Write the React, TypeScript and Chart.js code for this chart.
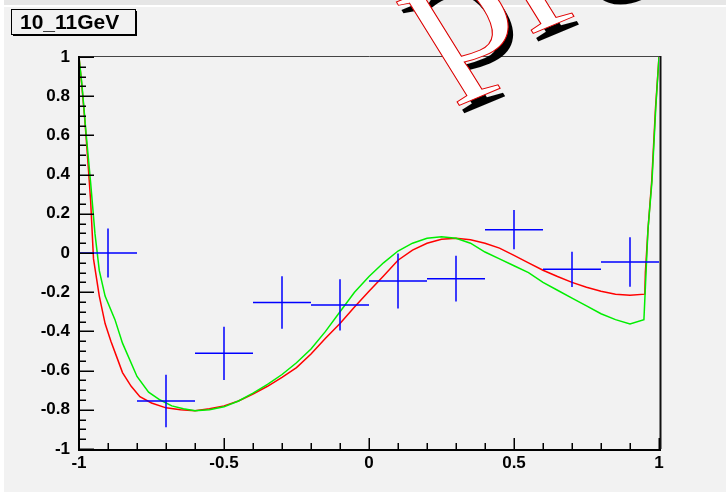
import React, { useEffect, useRef } from "react";
import { Chart, registerables } from "chart.js";

Chart.register(...registerables);

// ---- data ----
const titleText = "10_11GeV";
const watermarkText = "preliminary";

const binCenters = [-0.9, -0.7, -0.5, -0.3, -0.1, 0.1, 0.3, 0.5, 0.7, 0.9];
const binHalfWidths = [0.1, 0.1, 0.1, 0.1, 0.1, 0.1, 0.1, 0.1, 0.1, 0.1];
const measured = [0.0, -0.755, -0.512, -0.253, -0.265, -0.143, -0.131, 0.119, -0.083, -0.046];
const measuredErr = [0.125, 0.134, 0.136, 0.134, 0.131, 0.14, 0.117, 0.1, 0.09, 0.126];

const redX = [-1.0, -0.99, -0.98, -0.97, -0.96, -0.95, -0.93, -0.91, -0.89, -0.87, -0.85, -0.82, -0.79, -0.75, -0.7, -0.65, -0.6, -0.55, -0.5, -0.45, -0.4, -0.35, -0.3, -0.25, -0.2, -0.15, -0.1, -0.05, 0.0, 0.05, 0.1, 0.15, 0.2, 0.25, 0.3, 0.35, 0.4, 0.45, 0.5, 0.55, 0.6, 0.65, 0.7, 0.75, 0.8, 0.85, 0.9, 0.951, 0.953, 0.962, 0.975, 0.988, 1.0];
const redY = [1.0, 0.85, 0.68, 0.48, 0.27, -0.03, -0.22, -0.36, -0.45, -0.53, -0.61, -0.68, -0.733, -0.765, -0.79, -0.8, -0.805, -0.795, -0.78, -0.755, -0.72, -0.68, -0.635, -0.585, -0.515, -0.435, -0.36, -0.275, -0.195, -0.117, -0.037, 0.015, 0.05, 0.07, 0.075, 0.068, 0.05, 0.025, -0.012, -0.05, -0.088, -0.12, -0.15, -0.175, -0.195, -0.21, -0.215, -0.21, -0.1, 0.12, 0.37, 0.74, 1.0];

const greenX = [-1.0, -0.99, -0.975, -0.96, -0.945, -0.93, -0.91, -0.876, -0.85, -0.8, -0.76, -0.72, -0.68, -0.64, -0.6, -0.55, -0.5, -0.45, -0.4, -0.35, -0.3, -0.25, -0.2, -0.15, -0.1, -0.05, 0.0, 0.05, 0.1, 0.15, 0.2, 0.25, 0.3, 0.35, 0.4, 0.45, 0.5, 0.55, 0.6, 0.65, 0.7, 0.75, 0.8, 0.85, 0.9, 0.948, 0.962, 0.976, 0.989, 1.0];
const greenY = [1.0, 0.86, 0.6, 0.36, 0.1, -0.09, -0.22, -0.34, -0.46, -0.63, -0.71, -0.75, -0.78, -0.795, -0.805, -0.8, -0.785, -0.755, -0.715, -0.67, -0.62, -0.56, -0.49, -0.4, -0.3, -0.2, -0.12, -0.05, 0.01, 0.05, 0.075, 0.083, 0.075, 0.05, 0.005, -0.03, -0.065, -0.1, -0.15, -0.19, -0.23, -0.27, -0.31, -0.34, -0.362, -0.34, 0.12, 0.37, 0.745, 1.0];

const xMajorStep = 0.5;
const xMinorStep = 0.1;
const yMajorStep = 0.2;
const yMinorStep = 0.05;

const BG = "#f2f2f2";
const LABEL_FONT = { family: "'Liberation Sans', Arial, sans-serif", size: 17, weight: "bold" as const };

const fmt = (v: number) => String(Math.round(v * 100) / 100);

export default function App() {
  const ref = useRef<HTMLCanvasElement>(null);

  useEffect(() => {
    const canvas = ref.current!;
    const pts = (xs: number[], ys: number[]) => xs.map((x, i) => ({ x, y: ys[i] }));

    const bgPlugin = {
      id: "bg",
      beforeDraw(chart: any) {
        const c = chart.ctx;
        c.save();
        c.fillStyle = BG;
        c.fillRect(0, 0, chart.width, chart.height);
        c.fillStyle = "#e6e6e6";
        c.fillRect(0, 0, chart.width, 5);
        c.fillStyle = "#ffffff";
        c.fillRect(0, 5, chart.width, 2);
        c.fillRect(0, 0, 4, chart.height);
        c.restore();
      },
    };

    const framePlugin = {
      id: "frame",
      afterDatasetsDraw(chart: any) {
        const c = chart.ctx;
        const xs = chart.scales.x;
        const ys = chart.scales.y;
        const a = chart.chartArea;
        c.save();
        // error crosses
        c.strokeStyle = "rgb(0,0,255)";
        c.lineWidth = 1.5;
        binCenters.forEach((bx, i) => {
          const px = xs.getPixelForValue(bx);
          const py = ys.getPixelForValue(measured[i]);
          const x0 = xs.getPixelForValue(bx - binHalfWidths[i]);
          const x1 = xs.getPixelForValue(bx + binHalfWidths[i]);
          const y0 = ys.getPixelForValue(measured[i] - measuredErr[i]);
          const y1 = ys.getPixelForValue(measured[i] + measuredErr[i]);
          c.beginPath();
          c.moveTo(x0, py);
          c.lineTo(x1, py);
          c.moveTo(px, y0);
          c.lineTo(px, y1);
          c.stroke();
        });
        // frame
        c.strokeStyle = "#444";
        c.lineWidth = 1;
        c.beginPath();
        c.moveTo(a.left, a.top - 0.5);
        c.lineTo(a.right + 1, a.top - 0.5);
        c.stroke();
        c.strokeStyle = "#111";
        c.lineWidth = 2;
        c.beginPath();
        c.moveTo(a.right + 1.5, a.top - 1);
        c.lineTo(a.right + 1.5, a.bottom);
        c.stroke();
        c.strokeStyle = "#000";
        c.lineWidth = 2;
        c.beginPath();
        c.moveTo(a.left, a.top - 1);
        c.lineTo(a.left, a.bottom + 1);
        c.lineTo(a.right + 2, a.bottom + 1);
        c.stroke();
        // ticks
        c.lineWidth = 1.5;
        c.strokeStyle = "#000";
        c.beginPath();
        const nx = Math.round(2 / xMinorStep);
        for (let i = 0; i <= nx; i++) {
          const v = -1 + i * xMinorStep;
          const isMajor = Math.abs(v / xMajorStep - Math.round(v / xMajorStep)) < 1e-6;
          const px = Math.round(xs.getPixelForValue(v)) + 0.25;
          c.moveTo(px, a.bottom);
          c.lineTo(px, a.bottom - (isMajor ? 11 : 6));
        }
        const ny = Math.round(2 / yMinorStep);
        for (let i = 0; i <= ny; i++) {
          const v = -1 + i * yMinorStep;
          const isMajor = Math.abs(v / yMajorStep - Math.round(v / yMajorStep)) < 1e-6;
          const py = Math.round(ys.getPixelForValue(v)) + 0.25;
          c.moveTo(a.left, py);
          c.lineTo(a.left + (isMajor ? 15 : 7), py);
        }
        c.stroke();
        c.restore();
      },
      afterDraw(chart: any) {
        const c = chart.ctx;
        c.save();
        // title box
        c.fillStyle = BG;
        c.fillRect(11.5, 9.5, 124, 25);
        c.strokeStyle = "#000";
        c.lineWidth = 1;
        c.strokeRect(11.5, 9.5, 124, 25);
        c.fillStyle = "#000";
        c.fillRect(135, 11, 2, 25);
        c.fillRect(13, 34, 124, 2);
        c.font = "bold 21px 'Liberation Sans', Arial, sans-serif";
        c.textBaseline = "alphabetic";
        c.textAlign = "left";
        c.fillText(titleText, 20, 29);
        // watermark (rotated text in a horizontally stretched frame)
        const ox = 436, oy = 74, ang = (-27 * Math.PI) / 180, stretch = 1.22;
        c.font = "172px 'Liberation Serif', 'Times New Roman', serif";
        c.save();
        c.translate(ox + 5, oy + 8);
        c.scale(stretch, 1);
        c.rotate(ang);
        c.fillStyle = "#000";
        c.fillText(watermarkText, 0, 0);
        c.restore();
        c.save();
        c.translate(ox, oy);
        c.scale(stretch, 1);
        c.rotate(ang);
        c.fillStyle = "#fff";
        c.fillText(watermarkText, 0, 0);
        c.strokeStyle = "#e00000";
        c.lineWidth = 0.9;
        c.strokeText(watermarkText, 0, 0);
        c.restore();
        c.restore();
      },
    };

    const chart = new Chart(canvas, {
      type: "scatter",
      data: {
        datasets: [
          {
            label: "green",
            data: pts(greenX, greenY),
            showLine: true,
            borderColor: "#00ee00",
            borderWidth: 1.5,
            pointRadius: 0,
            tension: 0,
          },
          {
            label: "red",
            data: pts(redX, redY),
            showLine: true,
            borderColor: "#ff0000",
            borderWidth: 1.5,
            pointRadius: 0,
            tension: 0,
          },
          {
            label: "data",
            data: pts(binCenters, measured),
            pointRadius: 0,
            showLine: false,
          },
        ],
      },
      options: {
        animation: false,
        responsive: false,
        devicePixelRatio: 1,
        events: [],
        layout: { padding: { top: 57, right: 67, left: 0, bottom: 0 } },
        plugins: { legend: { display: false }, tooltip: { enabled: false }, title: { display: false } },
        scales: {
          x: {
            type: "linear",
            min: -1,
            max: 1,
            grid: { display: false, drawTicks: false },
            border: { display: false },
            ticks: {
              stepSize: xMajorStep,
              autoSkip: false,
              maxRotation: 0,
              padding: 4,
              color: "#000",
              font: LABEL_FONT,
              callback: (v: any) => fmt(Number(v)),
            },
            afterFit: (s: any) => {
              s.height = 43;
            },
          },
          y: {
            type: "linear",
            min: -1,
            max: 1,
            grid: { display: false, drawTicks: false },
            border: { display: false },
            ticks: {
              stepSize: yMajorStep,
              autoSkip: false,
              padding: 9,
              color: "#000",
              font: LABEL_FONT,
              callback: (v: any) => fmt(Number(v)),
            },
            afterFit: (s: any) => {
              s.width = 79;
            },
          },
        },
      },
      plugins: [bgPlugin, framePlugin],
    });
    return () => chart.destroy();
  }, []);

  return (
    <div style={{ position: "fixed", left: 0, top: 0, width: 726, height: 492 }}>
      <canvas ref={ref} width={726} height={492} style={{ display: "block" }} />
    </div>
  );
}
